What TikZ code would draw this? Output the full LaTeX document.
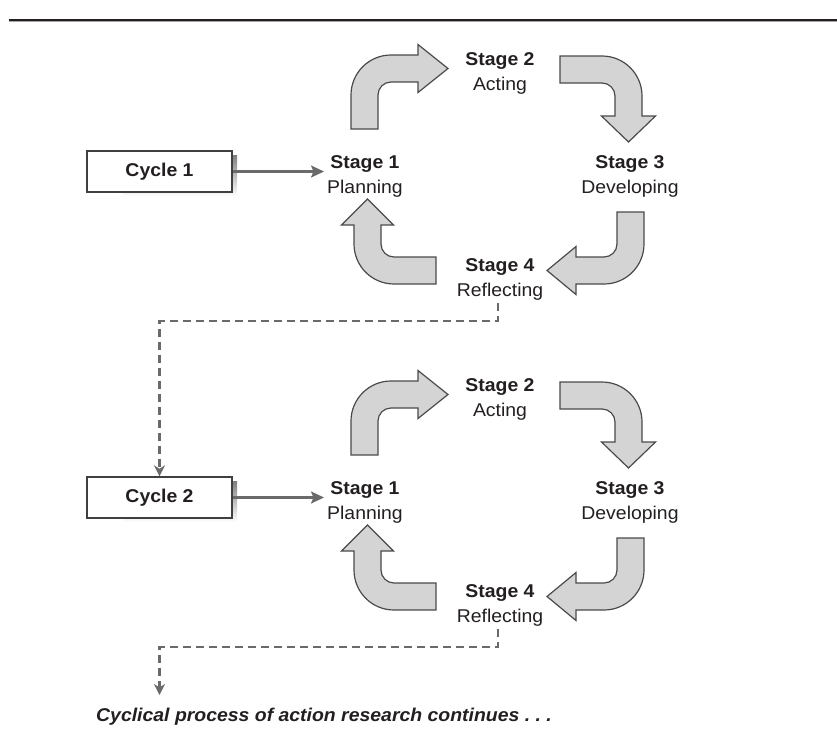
\documentclass[tikz,border=0pt]{standalone}
\usepackage{fontspec}
\setmainfont{Liberation Sans}
\newfontfamily\labfont[FakeStretch=1.05]{Liberation Sans}
\usetikzlibrary{arrows.meta,calc}
\definecolor{txt}{HTML}{231F20}
\definecolor{arrfill}{HTML}{D4D4D4}
\definecolor{arrline}{HTML}{4A4A4A}
\definecolor{conn}{HTML}{6A6A6A}
\definecolor{shade}{HTML}{B0B0B0}
\definecolor{boxline}{HTML}{404040}
\frenchspacing
% #1 cx, #2 cy, #3 rotation, #4 tail length, #5 head base, #6 tip, #7 head half width
\newcommand\blockarr[7]{%
  \begin{scope}[shift={(#1,#2)},rotate=#3]
    \filldraw[blockarrow] (-40,#4) -- (-40,0) arc[start angle=180,end angle=270,radius=40]
      -- (#5,-40) -- (#5,{-26.5-#7}) -- (#6,-26.5) -- (#5,{-26.5+#7}) -- (#5,-13)
      -- (0,-13) arc[start angle=270,end angle=180,radius=13] -- (-13,#4) -- cycle;
  \end{scope}}
\begin{document}
\begin{tikzpicture}[x=1pt,y=1pt,yscale=-1,
  stagelbl/.style={font=\labfont\fontsize{18.5}{25}\selectfont, text=txt, align=center, inner sep=0pt},
  cyclebox/.style={draw=boxline, line width=1.4pt, fill=white, minimum width=145pt, minimum height=41pt,
    inner sep=0pt, font=\labfont\fontsize{18.5}{22}\selectfont\bfseries, text=txt},
  feed/.style={draw=conn, line width=2.1pt, shorten >=3pt, -{Stealth[length=13pt,width=12pt,inset=2.5pt]}},
  loopback/.style={draw=conn, line width=2.1pt, dash pattern=on 8pt off 5pt,
    -{Stealth[length=11pt,width=11pt,inset=3.5pt]}},
  blockarrow/.style={fill=arrfill, draw=arrline, line width=1.2pt, line join=miter}]
\useasboundingbox (0,0) rectangle (837,742);
% top rule
\draw[line width=1.8pt, color=txt] (9,20) -- (837,20);
\draw[line width=0.9pt, color=black!35] (9,21.6) -- (837,21.6);

\foreach \dy/\k/\c in {0/a/1,326/b/2}{
  % shadow and box
  \fill[shade] (123,{155+\dy}) rectangle (237,{196+\dy});
  \node[cyclebox] (cyc\k) at (159.5,{171.5+\dy}) {Cycle \c};
  % stage labels
  \node[stagelbl] (s1\k) at (365,{176+\dy}) {\textbf{Stage 1}\\Planning};
  \node[stagelbl] (s2\k) at (500,{73.7+\dy}) {\textbf{Stage 2}\\Acting};
  \node[stagelbl] (s3\k) at (630,{176.5+\dy}) {\textbf{Stage 3}\\Developing};
  \node[stagelbl] (s4\k) at (500,{279.2+\dy}) {\textbf{Stage 4}\\Reflecting};
  % block arrows
  \blockarr{391}{95+\dy}{0}{34}{27}{57}{24}
  \blockarr{602}{96+\dy}{90}{42}{20}{46}{27}
  \blockarr{604}{244+\dy}{180}{32}{28}{57}{24}
  \blockarr{394}{244+\dy}{270}{42}{19}{45}{26}
  % feed arrow
  \draw[feed] (cyc\k.east) -- (cyc\k.east -| s1\k.west);
}

% loop-back connectors
\draw[loopback] (s4a.south) ++(-2,3) -- ++(0,18) -| (cycb.north);
\coordinate (cont) at (159.5,695);
\draw[loopback] (s4b.south) ++(-2,3) -- ++(0,18) -| (cont);

\node[anchor=base west, inner sep=0pt, text=txt,
  font=\labfont\fontsize{18.5}{22}\selectfont\bfseries\itshape] (cap) at (96,721)
  {Cyclical process of action research continues . . .};
\end{tikzpicture}
\end{document}
